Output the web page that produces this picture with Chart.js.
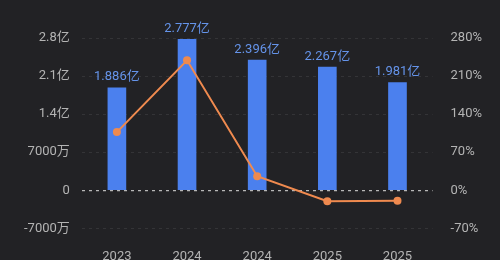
<!DOCTYPE html>
<html>
<head>
<meta charset="utf-8">
<script src="https://cdn.jsdelivr.net/npm/chart.js@4"></script>
<style>
  html, body { margin: 0; padding: 0; background: #222225; }
  #wrap { width: 500px; height: 260px; }
</style>
</head>
<body>
<div id="wrap"><canvas id="chart"></canvas></div>
<script>
// values in 亿
let years = ['2023', '2024', '2024', '2025', '2025'];
let revenue = [1.886, 2.777, 2.396, 2.267, 1.981];
let growth = [107, 239, 26, -20, -19];

function formatYi(v)
{
    v = Math.round(v * 100) / 100;
    if (v === 0) return '0';
    if (Math.abs(v) < 1) return Math.round(v * 10000) + '万';
    return v.toFixed(1) + '亿';
}

let fontFamily = 'Roboto, "Noto Sans CJK SC", sans-serif';

let barLabels = {
    id: 'barLabels',
    afterDatasetsDraw(chart) {
        let ctx = chart.ctx;
        let meta = chart.getDatasetMeta(1);
        ctx.save();
        ctx.font = '13px ' + fontFamily;
        ctx.fillStyle = '#6594ea';
        ctx.textAlign = 'center';
        ctx.textBaseline = 'bottom';
        meta.data.forEach((bar, i) => {
            ctx.fillText(revenue[i].toFixed(3) + '亿', bar.x, bar.y - 4);
        });
        ctx.restore();
    }
};

new Chart(document.getElementById('chart'), {
    data: {
        labels: years,
        datasets: [{
            type: 'line',
            data: growth,
            yAxisID: 'y1',
            borderColor: '#ef8a4f',
            backgroundColor: '#ef8a4f',
            borderWidth: 2,
            pointRadius: 4,
            pointBorderWidth: 0,
            order: 0
        }, {
            type: 'bar',
            data: revenue,
            yAxisID: 'y',
            backgroundColor: '#4b80ee',
            barThickness: 18,
            order: 1
        }]
    },
    options: {
        responsive: true,
        maintainAspectRatio: false,
        animation: false,
        layout: { padding: { top: 38, left: 12, right: 8, bottom: -18 } },
        plugins: {
            legend: { display: false },
            tooltip: { enabled: false }
        },
        scales: {
            x: {
                grid: { display: false },
                border: { display: false },
                ticks: { color: '#b4b4b4', font: { size: 13, family: fontFamily }, padding: 13 }
            },
            y: {
                position: 'left',
                min: -0.7,
                max: 2.8,
                ticks: {
                    stepSize: 0.7,
                    color: '#b4b4b4',
                    font: { size: 13, family: fontFamily },
                    padding: 12,
                    callback: v => formatYi(v)
                },
                grid: {
                    drawTicks: false,
                    color: c => Math.abs(c.tick.value) < 1e-6 ? '#b8b8b8' : '#343437',
                    lineWidth: c => Math.abs(c.tick.value) < 1e-6 ? 1.2 : 1
                },
                border: { display: false, dash: [3, 4] }
            },
            y1: {
                position: 'right',
                min: -70,
                max: 280,
                ticks: {
                    stepSize: 70,
                    color: '#b4b4b4',
                    font: { size: 13, family: fontFamily },
                    padding: 10,
                    callback: v => v + '%'
                },
                grid: { display: false },
                border: { display: false }
            }
        }
    },
    plugins: [barLabels]
});
</script>
</body>
</html>
